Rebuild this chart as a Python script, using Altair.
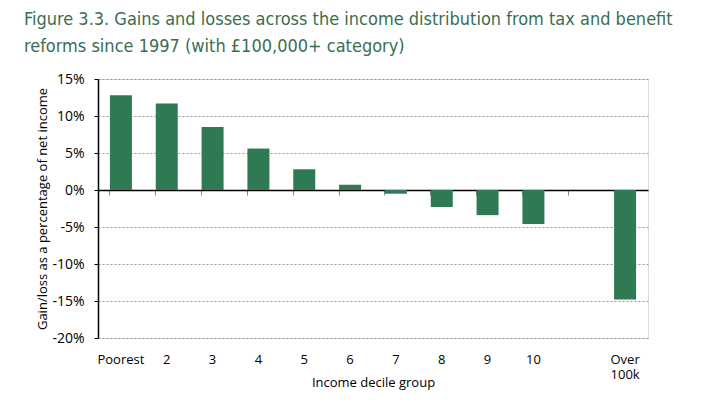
import altair as alt
import pandas as pd

categories = ["Poorest", "2", "3", "4", "5", "6", "7", "8", "9", "10", "", "Over 100k"]
values = [12.8, 11.7, 8.5, 5.6, 2.8, 0.7, -0.5, -2.3, -3.4, -4.6, None, -14.8]
y_ticks = [-20, -15, -10, -5, 0, 5, 10, 15]

df = pd.DataFrame({"group": categories, "value": values})
bars_df = df.dropna()

font = "Open Sans"
green = "#2f7a52"

xscale = alt.Scale(domain=categories, paddingInner=0.52, paddingOuter=0.26)
yscale = alt.Scale(domain=[-20, 15], nice=False)

bars = alt.Chart(bars_df).mark_bar(color=green).encode(
    x=alt.X("group:N", scale=xscale, sort=categories,
            axis=alt.Axis(title="Income decile group", orient="bottom", domain=False, ticks=False,
                          labelAngle=0, labelPadding=15, titlePadding=-5,
                          labelExpr="datum.value == 'Over 100k' ? ['Over', '100k'] : datum.label",
                          labelFont=font, labelFontSize=13, labelColor="black",
                          titleFont=font, titleFontSize=13, titleFontWeight="normal", titleColor="black")),
    y=alt.Y("value:Q", scale=yscale,
            axis=alt.Axis(title="Gain/loss as a percentage of net income", values=y_ticks,
                          labelOverlap=False,
                          labelExpr="datum.value + '%'", grid=True, gridDash=[2, 2], gridColor="#999999",
                          domainColor="black", domainWidth=1.5, tickColor="black", tickSize=4,
                          labelFont=font, labelFontSize=14, labelColor="black", labelPadding=10,
                          titleFont=font, titleFontSize=13, titleFontWeight="normal", titleColor="black",
                          titlePadding=2)),
)

zero_axis = alt.Chart(bars_df).mark_bar(opacity=0).encode(
    x=alt.X("group:N", scale=xscale, sort=categories,
            axis=alt.Axis(title=None, orient="bottom", offset=-148, labels=False, domain=True,
                          domainColor="black", domainWidth=1.5, ticks=True, tickColor="#888888",
                          tickSize=5, bandPosition=0, grid=False)),
    y=alt.Y("value:Q", scale=yscale, axis=None),
)

chart = alt.layer(bars, zero_axis).resolve_axis(x="independent", y="independent").properties(
    width=550, height=259,
    padding={"left": 15, "top": 3, "right": 5, "bottom": 5},
    title=alt.TitleParams(
        ["Figure 3.3. Gains and losses across the income distribution from tax and benefit",
         "reforms since 1997 (with £100,000+ category)"],
        anchor="start", frame="bounds", font="DejaVu Sans Condensed, Roboto Condensed, Roboto",
        fontSize=18, fontWeight="normal", color="#3a6e50", lineHeight=27, offset=16, dx=-13),
).configure_view(stroke="transparent", strokeWidth=0).configure(background="white")

chart.save("out.html", embed_options={"renderer": "svg", "actions": False})
